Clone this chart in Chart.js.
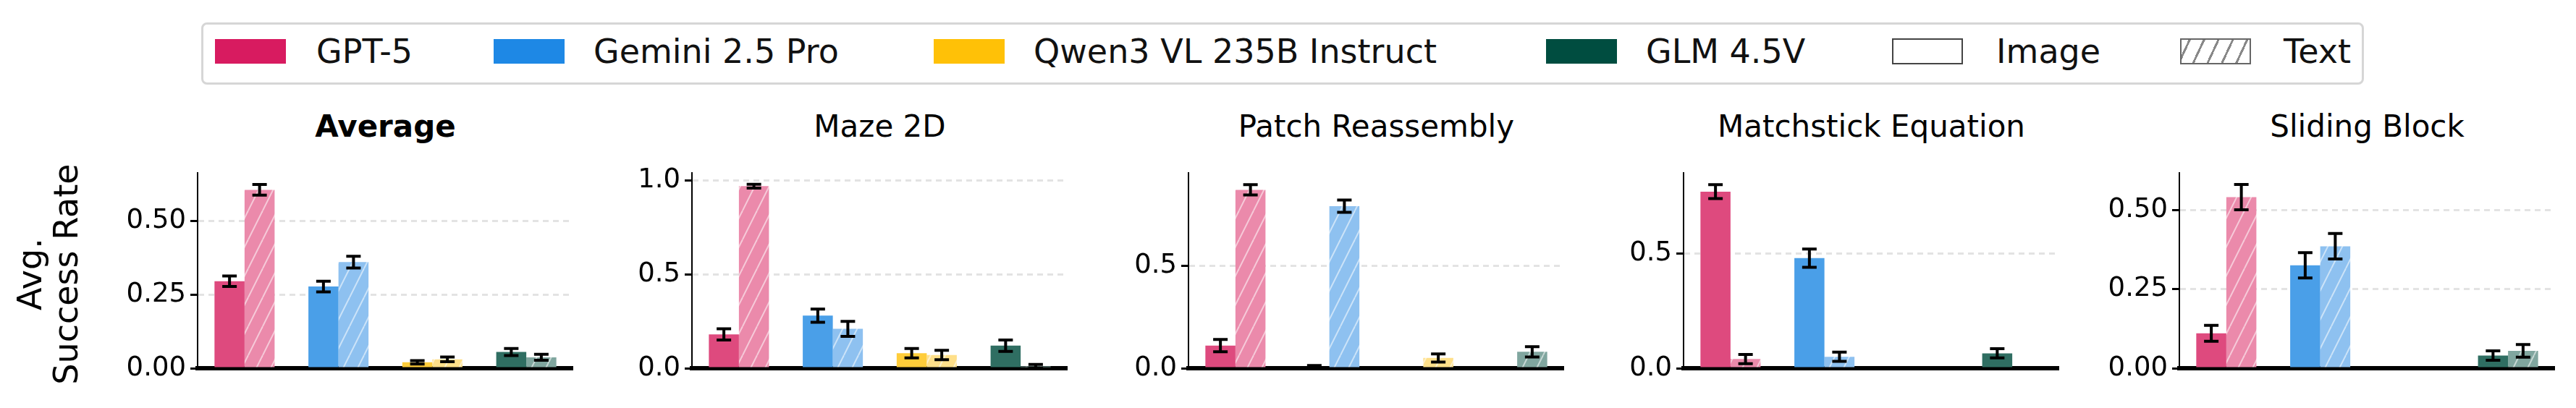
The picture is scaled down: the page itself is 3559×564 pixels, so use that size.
<!DOCTYPE html>
<html>
<head>
<meta charset="utf-8">
<script src="https://cdn.jsdelivr.net/npm/chart.js@4.4.1/dist/chart.umd.min.js"></script>
<style>
  body { margin: 0; width: 3559px; height: 564px; background: #fff; position: relative; overflow: hidden; font-family: "DejaVu Sans", sans-serif; }
  .abs { position: absolute; }
  #legend { left: 278px; top: 31px; width: 2988px; height: 86px; border: 3px solid #d6d6d6; border-radius: 8px; box-sizing: border-box; }
  .sw { position: absolute; top: 54px; width: 98px; height: 34px; box-sizing: border-box; }
  .lt { position: absolute; top: 44px; font-size: 46px; line-height: 54px; color: #111; }
  .title { position: absolute; top: 150px; font-size: 42px; text-align: center; color: #000; }
  #ytitle { left: 0; top: 219px; width: 130px; height: 345px; }
</style>
</head>
<body>
<div id="legend" class="abs"></div>
<div id="ytitle" class="abs"><canvas id="yt" width="130" height="345"></canvas></div>
<script>
// models and panels
var models = ["GPT-5", "Gemini 2.5 Pro", "Qwen3 VL 235B Instruct", "GLM 4.5V"];
var panels = ["Average", "Maze 2D", "Patch Reassembly", "Matchstick Equation", "Sliding Block"];

// success rates per panel: [GPT-5, Gemini, Qwen, GLM]
var imageValues = [
  [0.295, 0.277, 0.020, 0.055],
  [0.18, 0.28, 0.08, 0.12],
  [0.11, 0.005, 0.0, 0.0],
  [0.77, 0.48, 0.0, 0.065],
  [0.11, 0.325, 0.0, 0.04]
];
var textValues = [
  [0.605, 0.36, 0.03, 0.037],
  [0.97, 0.21, 0.07, 0.01],
  [0.87, 0.79, 0.05, 0.08],
  [0.04, 0.05, 0.0, 0.0],
  [0.54, 0.385, 0.0, 0.055]
];
var imageErr = [
  [0.018, 0.018, 0.006, 0.012],
  [0.03, 0.035, 0.025, 0.03],
  [0.03, 0.008, 0, 0],
  [0.03, 0.04, 0, 0.02],
  [0.025, 0.04, 0, 0.015]
];
var textErr = [
  [0.018, 0.02, 0.008, 0.01],
  [0.01, 0.04, 0.025, 0.01],
  [0.025, 0.03, 0.02, 0.025],
  [0.02, 0.02, 0, 0],
  [0.04, 0.04, 0, 0.02]
];
var yMax = [0.662, 1.04, 0.952, 0.851, 0.616];
var yTicks = [[0, 0.25, 0.5], [0, 0.5, 1.0], [0, 0.5], [0, 0.5], [0, 0.25, 0.5]];
var tickDigits = [2, 1, 1, 1, 2];

var baseColors = ["#D81B60", "#1E88E5", "#FFC107", "#004D40"];
var imageColors = ["#de4a7e", "#4a9fe8", "#ffcd3a", "#2f6e62"];
var textColors = ["#eb8aab", "#8ec1f0", "#ffe08a", "#80a69f"];
var axisX = [273, 956, 1642, 2326, 3011];
var plotW = 519;
var axisPad = 110;

function hatch(color) {
  var c = document.createElement("canvas");
  c.width = 20; c.height = 40;
  var g = c.getContext("2d");
  g.fillStyle = color; g.fillRect(0, 0, 20, 40);
  g.strokeStyle = "rgba(255,255,255,0.55)"; g.lineWidth = 2;
  for (var k = -20; k <= 40; k += 20) {
    g.beginPath(); g.moveTo(k, 40); g.lineTo(k + 20, 0); g.stroke();
  }
  return g.createPattern(c, "repeat");
}

// legend
var legItems = [
  { sw: 297, tx: 437, label: "GPT-5", fill: baseColors[0] },
  { sw: 682, tx: 820, label: "Gemini 2.5 Pro", fill: baseColors[1] },
  { sw: 1290, tx: 1428, label: "Qwen3 VL 235B Instruct", fill: baseColors[2] },
  { sw: 2136, tx: 2274, label: "GLM 4.5V", fill: baseColors[3] },
  { sw: 2614, tx: 2758, label: "Image", fill: "img" },
  { sw: 3012, tx: 3155, label: "Text", fill: "txt" }
];
legItems.forEach(function (it) {
  var s = document.createElement("div");
  s.className = "sw";
  s.style.left = it.sw + "px";
  if (it.fill === "img") {
    s.style.border = "2px solid #444"; s.style.height = "36px"; s.style.top = "53px";
  } else if (it.fill === "txt") {
    s.style.border = "2px solid #666"; s.style.height = "36px"; s.style.top = "53px";
    s.style.background = "repeating-linear-gradient(-65deg, #fff 0 15px, #888 15px 18px)";
  } else {
    s.style.background = it.fill;
  }
  document.body.appendChild(s);
  var t = document.createElement("div");
  t.className = "lt"; t.style.left = it.tx + "px"; t.textContent = it.label;
  document.body.appendChild(t);
});

// y title
var yc = document.getElementById("yt").getContext("2d");
yc.save();
yc.translate(65, 160); yc.rotate(-Math.PI / 2);
yc.font = "46px 'DejaVu Sans'"; yc.textAlign = "center"; yc.fillStyle = "#000";
yc.fillText("Avg.", 0, -8);
yc.fillText("Success Rate", 0, 42);
yc.restore();

var errorBars = {
  id: "errorBars",
  afterDatasetsDraw: function (chart, args, opts) {
    var ctx = chart.ctx, y = chart.scales.y;
    [opts.img, opts.txt].forEach(function (errs, di) {
      var meta = chart.getDatasetMeta(di);
      var vals = chart.data.datasets[di].data;
      meta.data.forEach(function (bar, i) {
        if (!errs[i] && !vals[i]) return;
        var hi = y.getPixelForValue(vals[i] + errs[i]);
        var lo = y.getPixelForValue(Math.max(0, vals[i] - errs[i]));
        ctx.save();
        ctx.strokeStyle = "#000"; ctx.lineWidth = 4;
        ctx.beginPath();
        ctx.moveTo(bar.x, hi); ctx.lineTo(bar.x, lo);
        ctx.moveTo(bar.x - 10, hi); ctx.lineTo(bar.x + 10, hi);
        ctx.moveTo(bar.x - 10, lo); ctx.lineTo(bar.x + 10, lo);
        ctx.stroke();
        ctx.restore();
      });
    });
  }
};

panels.forEach(function (name, p) {
  var t = document.createElement("div");
  t.className = "title";
  t.style.left = axisX[p] + "px"; t.style.width = plotW + "px";
  t.textContent = name;
  if (p === 0) t.style.fontWeight = "bold";
  document.body.appendChild(t);

  var wrap = document.createElement("div");
  wrap.className = "abs";
  wrap.style.left = (axisX[p] - axisPad) + "px"; wrap.style.top = "211px";
  wrap.style.width = (plotW + axisPad) + "px"; wrap.style.height = "353px";
  var cv = document.createElement("canvas");
  wrap.appendChild(cv);
  document.body.appendChild(wrap);

  new Chart(cv, {
    type: "bar",
    data: {
      labels: models,
      datasets: [
        { label: "Image", data: imageValues[p], backgroundColor: imageColors, borderWidth: 0 },
        { label: "Text", data: textValues[p], backgroundColor: textColors.map(hatch), borderWidth: 0 }
      ]
    },
    options: {
      responsive: true, maintainAspectRatio: false, animation: false,
      layout: { padding: { top: 8, right: 0, left: 0, bottom: 0 } },
      datasets: { bar: { categoryPercentage: 0.64, barPercentage: 1.0 } },
      plugins: {
        legend: { display: false }, tooltip: { enabled: false },
        errorBars: { img: imageErr[p], txt: textErr[p] }
      },
      scales: {
        x: {
          afterFit: function (s) { s.height = 55; },
          grid: { display: false, drawTicks: true, tickLength: 15, tickColor: "#000", tickWidth: 2 },
          border: { color: "#000", width: 6 },
          ticks: { display: true, callback: function () { return ""; } }
        },
        y: {
          min: 0, max: yMax[p],
          afterFit: function (s) { s.width = axisPad; },
          afterBuildTicks: function (s) { s.ticks = yTicks[p].map(function (v) { return { value: v }; }); },
          border: { color: "#000", width: 2, dash: [8, 6] },
          grid: {
            color: function (c) { return c.tick && c.tick.value === 0 ? "rgba(0,0,0,0)" : "#e3e3e3"; },
            lineWidth: 3, tickColor: "#000", tickLength: 10, tickWidth: 3
          },
          ticks: {
            color: "#000", padding: 6,
            font: { family: "DejaVu Sans", size: 37 },
            callback: function (v) { return Number(v).toFixed(tickDigits[p]); }
          }
        }
      }
    },
    plugins: [errorBars]
  });
});
</script>
</body>
</html>
